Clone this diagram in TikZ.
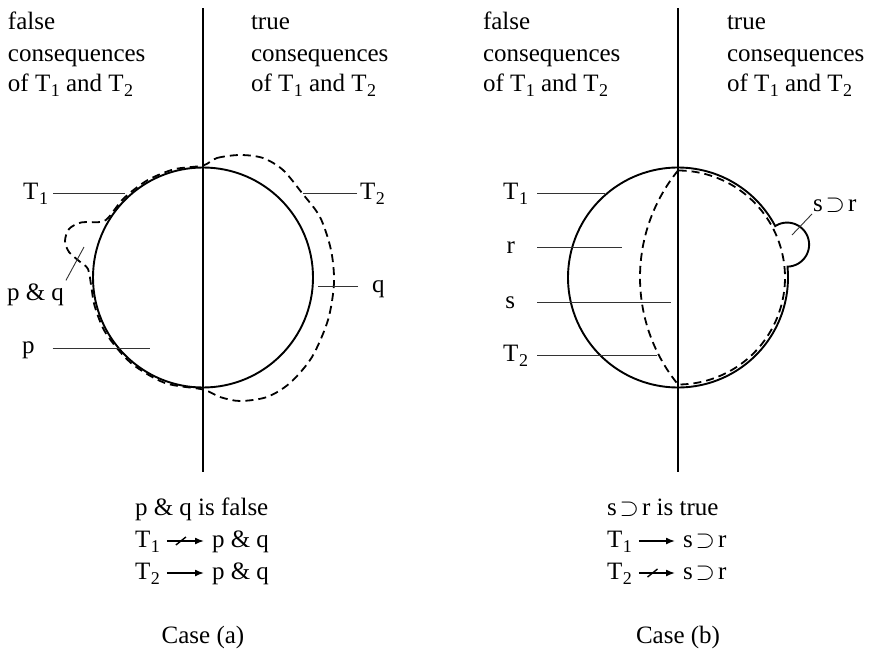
\documentclass[tikz,border=0pt]{standalone}
\usepackage{fontspec}
\setmainfont{Liberation Serif}
\usetikzlibrary{arrows.meta,calc}
\newcommand{\subx}[1]{\kern0.5pt\raisebox{-5.5pt}{\fontsize{18}{18}\selectfont #1}}
\newcommand{\supr}{s\kern3pt{\fontsize{29}{29}\selectfont$\supset$}\kern3pt r}
\begin{document}
\begin{tikzpicture}[x=1pt,y=-1pt,
  every node/.style={inner sep=0pt, outer sep=0pt, font=\fontsize{25}{30}\selectfont},
  axisline/.style={line width=1.7pt},
  solidc/.style={line width=1.9pt},
  dashc/.style={line width=1.8pt, dash pattern=on 8pt off 5pt},
  lead/.style={line width=0.9pt, black!80},
  impl/.style={line width=1.5pt, -{Latex[length=9pt,width=7pt]}},
  slash/.style={line width=1.4pt},
]
\useasboundingbox (0,0) rectangle (871,653);

% ---------------- Case (a) ----------------
\node[anchor=base west] (fa1) at (8,30) {false};
\node[anchor=base west] (fa2) at (8,61) {consequences};
\node[anchor=base west] (fa3) at (8,91) {of T\subx{1} and T\subx{2}};
\node[anchor=base west] (ta1) at (251,30) {true};
\node[anchor=base west] (ta2) at (251,61) {consequences};
\node[anchor=base west] (ta3) at (251,91) {of T\subx{1} and T\subx{2}};

\coordinate (va1) at (203,8);
\coordinate (va2) at (203,472);
\draw[axisline] (va1) -- (va2);

\node[circle, draw, solidc, minimum size=220pt] (Ca) at (203,277.5) {};

\draw[dashc] plot[smooth cycle] coordinates {
 (203,165.5) (217,158) (240,155) (263,158) (283,170) (302,193) (320,217)
 (331,250) (334,283) (328,320) (312,357) (290,383) (267,397) (240,401)
 (220,397) (203,389.5) (165,383) (131,363) (106,333.5) (94.8,306.5)
 (91.4,287.3) (88,269) (79,261) (69,252) (65,241) (69,229) (81,222.5)
 (100,222) (108,218) (123.8,198.3) (147,180.5) (174,169.3)};

\node[anchor=base east] (aT1) at (48,199) {T\subx{1}};
\coordinate (aT1e) at (125,193);
\draw[lead] (aT1e -| aT1.east) ++(5,0) -- (aT1e);

\node[anchor=base west] (aT2) at (360,199) {T\subx{2}};
\coordinate (aT2e) at (303,193);
\draw[lead] (aT2e -| aT2.west) ++(-3,0) -- (aT2e);

\node[anchor=base west] (apq) at (7,300) {p \& q};
\coordinate (apqe) at (84,247);
\draw[lead] ($(apq.north east)+(2,-3)$) -- (apqe);

\node[anchor=base west] (ap) at (22,353) {p};
\coordinate (ape) at (150,348);
\draw[lead] (ape -| ap.east) ++(18,0) -- (ape);

\node[anchor=base west] (aq) at (372,292) {q};
\coordinate (aqe) at (318,286);
\draw[lead] (aqe -| aq.west) ++(-14,0) -- (aqe);

\node[anchor=base west] (a1) at (135,515) {p \& q is false};
\node[anchor=base west] (a2l) at (135,547) {T\subx{1}};
\node[anchor=base west] (a2r) at (212,547) {p \& q};
\draw[impl] ($(a2l.base east)+(7,-6)$) -- coordinate[pos=0.38] (a2x) ($(a2r.base west)+(-8,-6)$);
\draw[slash] ($(a2x)+(-5,4)$) -- ($(a2x)+(5,-4)$);
\node[anchor=base west] (a3l) at (135,579) {T\subx{2}};
\node[anchor=base west] (a3r) at (212,579) {p \& q};
\draw[impl] ($(a3l.base east)+(7,-6)$) -- ($(a3r.base west)+(-8,-6)$);

\node[anchor=base] (casea) at (203,643) {Case (a)};

% ---------------- Case (b) ----------------
\node[anchor=base west] (fb1) at (483,30) {false};
\node[anchor=base west] (fb2) at (483,61) {consequences};
\node[anchor=base west] (fb3) at (483,91) {of T\subx{1} and T\subx{2}};
\node[anchor=base west] (tb1) at (727,30) {true};
\node[anchor=base west] (tb2) at (727,61) {consequences};
\node[anchor=base west] (tb3) at (727,91) {of T\subx{1} and T\subx{2}};

\coordinate (vb1) at (678,8);
\coordinate (vb2) at (678,472);
\draw[axisline] (vb1) -- (vb2);

\draw[solidc] plot[domain=-5.6:332, samples=160] ({678+110*cos(\x)},{277.5+110*sin(\x)})
  -- plot[domain=237.3:449, samples=60] ({787.1+22*cos(\x)},{244.6+22*sin(\x)}) -- cycle;

\draw[dashc] plot[domain=219.1:140.9, samples=60] ({809.6+169.6*cos(\x)},{277.5+169.6*sin(\x)})
  -- plot[domain=90:-90, samples=100] ({678+107*cos(\x)},{277.5+107*sin(\x)}) -- cycle;

\node[anchor=base east] (bT1) at (528,199) {T\subx{1}};
\coordinate (bT1e) at (605,193);
\draw[lead] (bT1e -| bT1.east) ++(9,0) -- (bT1e);

\node[anchor=base east] (br) at (515,253) {r};
\coordinate (bre) at (622,247);
\draw[lead] (bre -| br.east) ++(22,0) -- (bre);

\node[anchor=base east] (bs) at (515,308) {s};
\coordinate (bse) at (671,302);
\draw[lead] (bse -| bs.east) ++(22,0) -- (bse);

\node[anchor=base east] (bT2) at (528,361) {T\subx{2}};
\coordinate (bT2e) at (657,355);
\draw[lead] (bT2e -| bT2.east) ++(9,0) -- (bT2e);

\node[anchor=base west] (bsr) at (813,211) {\supr};
\coordinate (bsre) at (792,235);
\draw[lead] ($(bsr.south west)+(-1,2)$) -- (bsre);

\node[anchor=base west] (b1) at (607,515) {\supr{} is true};
\node[anchor=base west] (b2l) at (607,547) {T\subx{1}};
\node[anchor=base west] (b2r) at (683,547) {\supr};
\draw[impl] ($(b2l.base east)+(7,-6)$) -- ($(b2r.base west)+(-8,-6)$);
\node[anchor=base west] (b3l) at (607,579) {T\subx{2}};
\node[anchor=base west] (b3r) at (683,579) {\supr};
\draw[impl] ($(b3l.base east)+(7,-6)$) -- coordinate[pos=0.38] (b3x) ($(b3r.base west)+(-8,-6)$);
\draw[slash] ($(b3x)+(-5,4)$) -- ($(b3x)+(5,-4)$);

\node[anchor=base] (caseb) at (678,643) {Case (b)};
\end{tikzpicture}
\end{document}
